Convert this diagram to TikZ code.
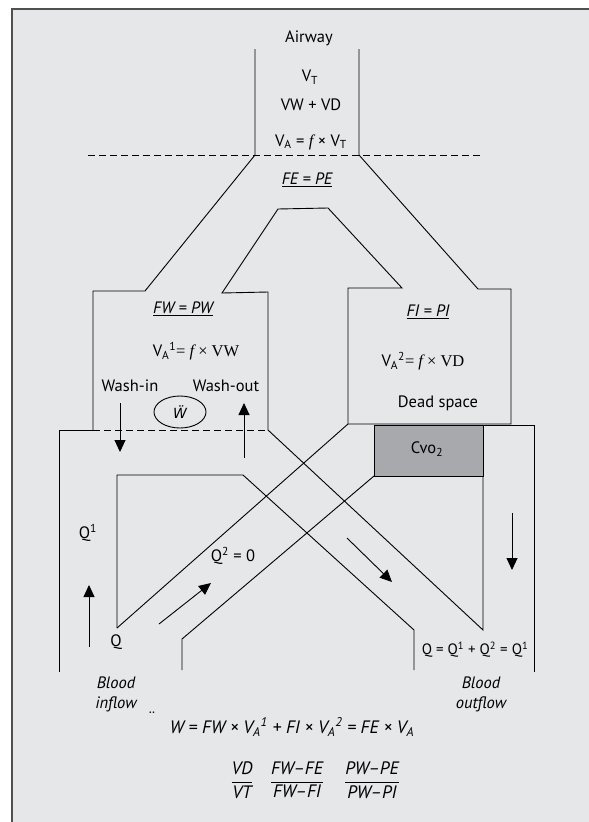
\documentclass[tikz,border=0pt]{standalone}
\usepackage{fontspec}
\setmainfont{PT Sans}
\newfontfamily\timesfont{Liberation Serif}
\newfontfamily\dejavu{DejaVu Sans}
\usetikzlibrary{arrows.meta,shapes.geometric}
\definecolor{panelgray}{HTML}{E6E7E9}
\definecolor{cvogray}{HTML}{A8A9AC}
\definecolor{framegray}{HTML}{505050}
\newcommand{\lo}[1]{\textsubscript{#1}}
\newcommand{\hi}[1]{\textsuperscript{#1}}
\newcommand{\ff}{{\timesfont\itshape f}}
\begin{document}
\begin{tikzpicture}[x=1pt,y=-1pt,line width=0.9pt,
  every node/.style={font=\fontsize{16.5}{19}\selectfont,inner sep=1pt},
  eqn/.style={font=\fontsize{18}{21}\selectfont\itshape},
  flow/.style={-{Triangle[length=12pt,width=11pt]}},
  cut/.style={dashed,dash pattern=on 7pt off 4pt}]
\useasboundingbox (0,0) rectangle (589,822);
\fill[panelgray] (12,9) rectangle (589,822);
\draw[framegray,line width=1.5pt] (12,822) -- (12,9) -- (589,9);
\fill[cvogray] (374,425) rectangle (483,476);
\draw (374,425) rectangle (483,476);
\draw (255,49) -- (255,155) -- (145,291) -- (93,291) -- (93,430);
\draw (359,49) -- (359,155) -- (478,289) -- (511,289) -- (511,424) -- (348,424);
\draw (117,628) -- (348,424) -- (348,288) -- (402,288) -- (328,208) -- (278,209)
  -- (222,293) -- (268,292) -- (268,430) -- (483,630) -- (483,476);
\draw (483,425) -- (534,425) -- (534,672);
\draw (59,672) -- (59,430) -- (93,430);
\draw (117,628) -- (117,475) -- (243,475) -- (414,630) -- (414,670);
\draw (374,476) -- (182,639) -- (182,670);
\draw[cut] (88,155) -- (482,155);
\draw[cut] (93,430) -- (268,430);
\draw[flow] (120,403) -- (120,452);
\draw[flow] (244,458) -- (244,403);
\draw[flow] (89,647) -- (89,585);
\draw[flow] (159,624) -- (211,583);
\draw[flow] (347,538) -- (392,582);
\draw[flow] (512,513) -- (512,570);
\node (airway) at (309,38) {Airway};
\node (vt) at (310,77) {V\lo{T}};
\node (vwvd) at (311,105) {VW + VD};
\node (va) at (311,142) {V\lo{A} = \ff{} × V\lo{T}};
\node (fepe) at (307,180) {\itshape\underline{FE = PE}};
\node (fwpw) at (183,309) {\itshape\underline{FW = PW}};
\node (va1) at (196,351) {V\lo{A}\hi{1}{\timesfont = \ff{} × VW}};
\node (washin) at (130,386) {Wash-in};
\node (washout) at (226,386) {Wash-out};
\node[draw,ellipse,minimum width=52pt,minimum height=32pt,inner sep=0pt] (wbox) at (180,412)
  {\dejavu\fontsize{14}{16}\selectfont\itshape Ẅ};
\node (fipi) at (428,312) {\itshape\underline{FI = PI}};
\node (va2) at (423,361) {V\lo{A}\hi{2}{\timesfont = \ff{} × VD}};
\node (dead) at (438,403) {Dead space};
\node (cvo) at (427,449) {Cvo\lo{2}};
\node (q1) at (88,533) {Q\hi{1}};
\node (q2) at (233,556) {Q\hi{2} = 0};
\node (q) at (116,642) {Q};
\node[font=\fontsize{15}{18}\selectfont] (qsum) at (475,650) {Q = Q\hi{1} + Q\hi{2} = Q\hi{1}};
\node[align=center,font=\fontsize{16.5}{20}\selectfont\itshape] (inflow) at (116,694) {Blood\\inflow};
\node[align=center,font=\fontsize{16.5}{20}\selectfont\itshape] (outflow) at (481,694) {Blood\\outflow};
\node (dots) at (152,718) {¨};
\node[eqn] (wbal) at (292,727)
  {W = FW × V\lo{A}\hi{1} + FI × V\lo{A}\hi{2} = FE × V\lo{A}};
\node[eqn] (ratio1) at (242,780) {$\displaystyle\frac{\hbox{VD}}{\hbox{VT}}$};
\node[eqn] (ratio2) at (297,780) {$\displaystyle\frac{\hbox{FW--FE}}{\hbox{FW--FI}}$};
\node[eqn] (ratio3) at (372,780) {$\displaystyle\frac{\hbox{PW--PE}}{\hbox{PW--PI}}$};
\end{tikzpicture}
\end{document}
